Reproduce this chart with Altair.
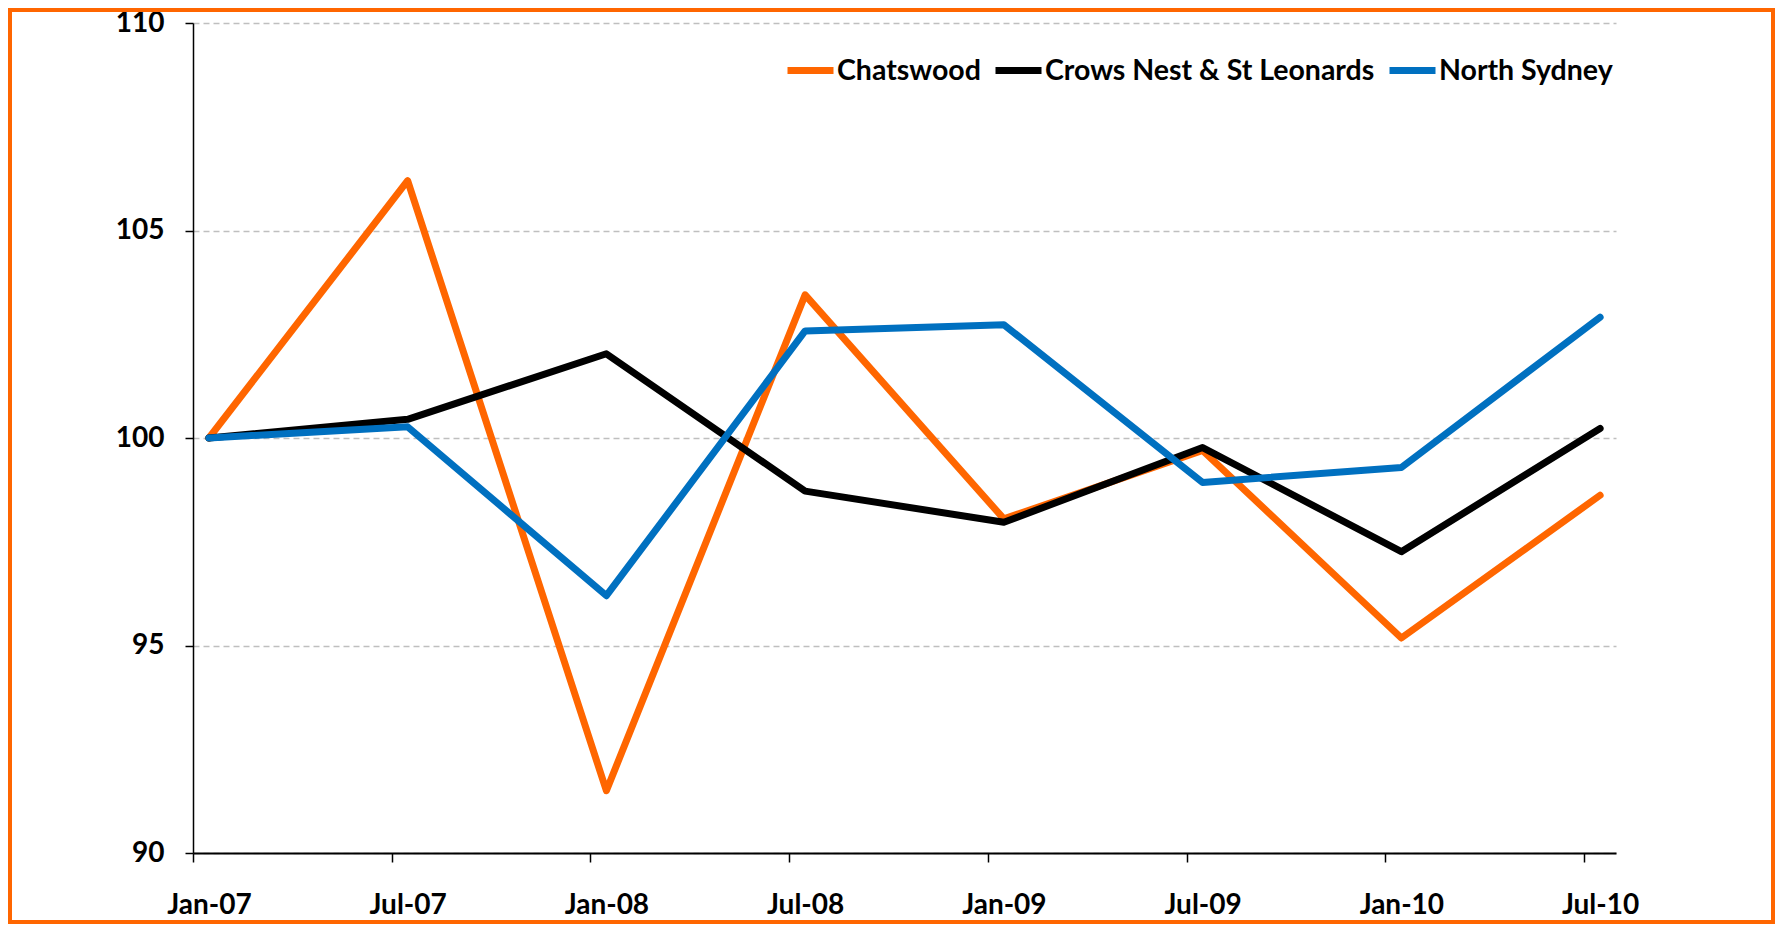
import altair as alt
import pandas as pd

periods = ["Jan-07", "Jul-07", "Jan-08", "Jul-08", "Jan-09", "Jul-09", "Jan-10", "Jul-10"]
series_names = ["Chatswood", "Crows Nest & St Leonards", "North Sydney"]
chatswood = [100.0, 106.2, 91.5, 103.45, 98.05, 99.7, 95.18, 98.62]
crows_nest = [100.0, 100.45, 102.03, 98.72, 97.97, 99.77, 97.26, 100.23]
north_sydney = [100.0, 100.27, 96.2, 102.58, 102.73, 98.93, 99.29, 102.91]
colors = ["#FF6600", "#000000", "#0070C0"]
y_ticks = [90, 95, 100, 105, 110]

rows = []
for name, vals in zip(series_names, [chatswood, crows_nest, north_sydney]):
    for p, v in zip(periods, vals):
        rows.append({"period": p, "value": v, "series": name})
df = pd.DataFrame(rows)

FONT = "Lato"
W, H = 1423, 830
PAD = {"left": 185, "top": 15, "right": 159, "bottom": 71}

lines = alt.Chart(df).mark_line(strokeWidth=7, strokeCap="round", strokeJoin="round").encode(
    x=alt.X("period:O", sort=periods,
            scale=alt.Scale(type="point", padding=0.08),
            axis=alt.Axis(title=None, labelAngle=0, tickOffset=-16, labelOffset=16,
                          tickSize=9, tickColor="black", tickWidth=1.5,
                          domainColor="black", domainWidth=2,
                          labelFont=FONT, labelFontSize=28, labelFontWeight="bold",
                          labelColor="black", labelPadding=29, grid=False)),
    y=alt.Y("value:Q",
            scale=alt.Scale(domain=[90, 110], nice=False, zero=False),
            axis=alt.Axis(title=None, values=y_ticks, tickSize=8, tickColor="black",
                          tickWidth=1.5, domainColor="black", domainWidth=1.5,
                          labelFont=FONT, labelFontSize=28, labelFontWeight="bold",
                          labelColor="black", labelPadding=21,
                          grid=True, gridColor="#BFBFBF", gridWidth=1.5,
                          gridDash=[6, 4])),
    color=alt.Color("series:N", sort=series_names,
                    scale=alt.Scale(domain=series_names, range=colors),
                    legend=alt.Legend(title=None, orient="none", legendX=591, legendY=21,
                                      direction="horizontal", symbolType="stroke",
                                      symbolSize=2116, symbolStrokeWidth=7,
                                      labelFont=FONT, labelFontSize=28.5,
                                      labelFontWeight="bold", labelColor="black",
                                      labelLimit=1000, labelOffset=0, columnPadding=0)),
    order=alt.Order("period_idx:Q"),
).transform_calculate(
    period_idx="indexof(" + str(periods) + ", datum.period)"
)

border = alt.Chart(alt.Data(values=[{"b": 1}])).mark_rect(
    filled=False, stroke="#FF6600", strokeWidth=4
).encode(
    x=alt.value(-PAD["left"] + 2),
    x2=alt.value(W + PAD["right"] - 2),
    y=alt.value(-PAD["top"] + 2),
    y2=alt.value(H + PAD["bottom"] - 2),
)

chart = alt.layer(lines, border).properties(
    width=W, height=H,
    autosize=alt.AutoSizeParams(type="none"),
    padding=PAD,
    background="white",
).configure_view(strokeWidth=0)

chart.save("out.html", embed_options={"renderer": "svg", "actions": False})
